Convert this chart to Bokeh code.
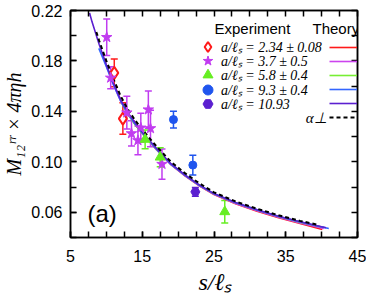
from bokeh.plotting import figure
from bokeh.layouts import column
from bokeh.models import (Range1d, FixedTicker, LinearAxis, PrintfTickFormatter, Whisker,
                          TeeHead, ColumnDataSource, Legend, LegendItem, Label, Div)
from bokeh.embed import file_html
from bokeh.resources import INLINE

# ---------------- data ----------------
x_ticks = [5, 15, 25, 35, 45]
y_ticks = [0.06, 0.10, 0.14, 0.18, 0.22]

red_s = [11.1, 12.3]
red_y = [0.1705, 0.1343]
red_err = [0.011, 0.0125]

star_s = [10.05, 10.6, 12.85, 13.5, 14.4, 14.8, 15.85, 16.15, 17.75]
star_y = [0.1988, 0.1666, 0.139, 0.1225, 0.117, 0.127, 0.1414, 0.1265, 0.0982]
star_err = [0.0145, 0.0087, 0.013, 0.010, 0.0114, 0.0115, 0.0148, 0.0145, 0.012]

tri_s = [15.4, 17.5, 26.5]
tri_y = [0.1178, 0.1037, 0.0604]
tri_err = [0.0075, 0.0075, 0.009]

circ_s = [19.35, 22.05]
circ_y = [0.1335, 0.0974]
circ_err = [0.0067, 0.0079]

pent_s = [22.4]
pent_y = [0.0762]
pent_err = [0.0035]

th_red_s = [10.5, 11, 12, 13, 14, 15, 17, 19, 21, 23, 25, 28, 31, 34, 37, 40.1]
th_red_y = [0.168, 0.162, 0.149, 0.1385, 0.130, 0.1228, 0.1098, 0.0978, 0.0887, 0.0808,
            0.0740, 0.0668, 0.0609, 0.0557, 0.0512, 0.0463]
th_mag_s = [9.8, 10, 11, 12, 13, 14, 15, 17, 19, 21, 23, 25, 28, 31, 34, 37, 40, 40.3]
th_mag_y = [0.179, 0.176, 0.161, 0.148, 0.138, 0.1298, 0.1225, 0.1095, 0.0978, 0.0888,
            0.081, 0.0742, 0.067, 0.0612, 0.056, 0.0516, 0.0476, 0.0472]
th_grn_s = [12.2, 13, 14, 15, 17, 19, 21, 23, 25, 28, 31, 34, 37, 40.3]
th_grn_y = [0.146, 0.1375, 0.1295, 0.1225, 0.1098, 0.0982, 0.0892, 0.0813, 0.0746, 0.0675,
            0.0618, 0.0566, 0.0522, 0.0480]
th_blu_s = [8.95, 10, 11, 12, 13, 14, 15, 17, 19, 21, 23, 25, 28, 31, 34, 37, 40, 41]
th_blu_y = [0.190, 0.1755, 0.161, 0.148, 0.138, 0.130, 0.123, 0.110, 0.098, 0.089, 0.0812,
            0.0746, 0.0676, 0.0619, 0.0567, 0.0524, 0.0484, 0.0472]
th_ind_s = [7.66, 8, 9, 10, 11, 12, 13, 14, 15, 17, 19, 21, 23, 25, 28, 31, 34, 37, 40, 40.6]
th_ind_y = [0.218, 0.211, 0.193, 0.177, 0.162, 0.149, 0.139, 0.131, 0.1235, 0.1105, 0.0985,
            0.0895, 0.0815, 0.0748, 0.0677, 0.0620, 0.0568, 0.0525, 0.0485, 0.0478]
th_perp_s = [8.6, 9, 10, 11, 12, 13, 14, 15, 17, 19, 21, 23, 25, 28, 31, 34, 37, 39.3]
th_perp_y = [0.203, 0.196, 0.180, 0.1655, 0.152, 0.1415, 0.133, 0.1255, 0.1122, 0.100,
             0.0908, 0.0828, 0.0758, 0.0686, 0.0628, 0.0576, 0.0532, 0.0503]

labels = ["a/ℓₛ = 2.34 ± 0.08", "a/ℓₛ = 3.7 ± 0.5", "a/ℓₛ = 5.8 ± 0.4",
          "a/ℓₛ = 9.3 ± 0.4", "a/ℓₛ = 10.93"]

C_RED = "#ff1a1a"
C_MAG = "#c13cf0"
C_GRN = "#66ee22"
C_BLU = "#1f55ee"
C_IND = "#5b1fd0"

# ---------------- figure ----------------
FL, FB = 71, 239  # frame left / bottom on the page (px)
p = figure(width=366, height=275, output_backend="svg", toolbar_location=None,
           x_range=Range1d(5, 45), y_range=Range1d(0.04, 0.22),
           min_border_left=63, min_border_right=9, min_border_top=10, min_border_bottom=38)
p.grid.visible = False
p.outline_line_color = "black"
p.outline_line_width = 1.5
p.background_fill_color = "white"
p.border_fill_color = "white"

x_minor = [5 + 2.5 * i for i in range(17)]
y_minor = [0.04 + 0.02 * i for i in range(10)]


def style_axis(ax, ticks, minor, labels_on):
    ax.ticker = FixedTicker(ticks=ticks if labels_on else [], minor_ticks=minor)
    ax.major_tick_in = 6
    ax.major_tick_out = 0
    ax.minor_tick_in = 6
    ax.minor_tick_out = 0
    ax.axis_line_color = "black"
    ax.axis_line_width = 1.5
    ax.major_tick_line_width = 1.5
    ax.minor_tick_line_width = 1.5
    ax.major_tick_line_color = "black"
    ax.minor_tick_line_color = "black"
    ax.major_label_text_font = "Liberation Sans"
    ax.major_label_text_font_size = "16px"
    ax.major_label_text_color = "black"
    ax.major_label_standoff = 8


xb = p.below[0]
yl = p.left[0]
style_axis(xb, x_ticks, x_minor, True)
style_axis(yl, y_ticks, y_minor, True)
xb.major_label_standoff = 12
yl.formatter = PrintfTickFormatter(format="%.2f")

yl.axis_label = "M₁₂ʳʳ × 4πηh"
yl.axis_label_text_font = "Liberation Serif"
yl.axis_label_text_font_style = "italic"
yl.axis_label_text_color = "black"
yl.axis_label_text_font_size = "20px"
yl.axis_label_standoff = 3

xt = LinearAxis()
style_axis(xt, x_ticks, x_minor, False)
p.add_layout(xt, "above")
yr = LinearAxis()
style_axis(yr, y_ticks, y_minor, False)
p.add_layout(yr, "right")

# ---------------- theory curves ----------------
lw = 1.6
l_red = p.line(th_red_s, th_red_y, line_color=C_RED, line_width=lw)
l_mag = p.line(th_mag_s, th_mag_y, line_color="#cc44ee", line_width=lw)
l_grn = p.line(th_grn_s, th_grn_y, line_color="#77ee33", line_width=lw)
l_blu = p.line(th_blu_s, th_blu_y, line_color="#3366ff", line_width=lw)
l_ind = p.line(th_ind_s, th_ind_y, line_color=C_IND, line_width=lw)
l_perp = p.line(th_perp_s, th_perp_y, line_color="black", line_width=2, line_dash="4 3")

# ---------------- error bars + markers ----------------


def errbars(s, y, e, color):
    src = ColumnDataSource(dict(x=s, lo=[a - b for a, b in zip(y, e)],
                                hi=[a + b for a, b in zip(y, e)]))
    w = Whisker(source=src, base="x", lower="lo", upper="hi", dimension="height",
                line_color=color, line_width=1.5,
                upper_head=TeeHead(size=7, line_color=color, line_width=1.5),
                lower_head=TeeHead(size=7, line_color=color, line_width=1.5))
    p.add_layout(w)


errbars(red_s, red_y, red_err, C_RED)
errbars(star_s, star_y, star_err, C_MAG)
errbars(tri_s, tri_y, tri_err, C_GRN)
errbars(circ_s, circ_y, circ_err, C_BLU)
errbars(pent_s, pent_y, pent_err, C_IND)

r_red = p.scatter(red_s, red_y, marker="diamond", size=12, fill_color="white",
                  line_color=C_RED, line_width=2)
r_star = p.scatter(star_s, star_y, marker="star", size=11, fill_color=C_MAG, line_color=C_MAG)
r_tri = p.scatter(tri_s, tri_y, marker="triangle", size=10, fill_color=C_GRN, line_color=C_GRN)
r_circ = p.scatter(circ_s, circ_y, marker="circle", size=8, fill_color=C_BLU, line_color=C_BLU)
r_pent = p.scatter(pent_s, pent_y, marker="hex", size=9, fill_color=C_IND, line_color=C_IND)

# ---------------- legends ----------------
row_y = [48, 62.3, 76.6, 91, 105.3]  # page y of legend rows
for t, r, yc in zip(labels, [r_red, r_star, r_tri, r_circ, r_pent], row_y):
    lg = Legend(items=[LegendItem(label=t, renderers=[r])],
                location=(125, FB - (yc + 12.5)), orientation="vertical",
                glyph_width=25, glyph_height=25, label_height=0, label_width=0,
                label_standoff=1, spacing=0, padding=0, margin=0,
                border_line_color=None, background_fill_alpha=0,
                label_text_font="Liberation Serif", label_text_font_style="italic",
                label_text_font_size="14px", label_text_color="black",
                label_text_baseline="middle")
    p.add_layout(lg)

leg2 = Legend(items=[LegendItem(label=" ", renderers=[r]) for r in
                     [l_red, l_mag, l_grn, l_blu, l_ind, l_perp]],
              location=(330 - FL, FB - 126), orientation="vertical",
              glyph_width=29, glyph_height=14, label_height=0, label_width=0,
              label_standoff=0, spacing=0, padding=0, margin=0,
              border_line_color=None, background_fill_alpha=0,
              label_text_font_size="1px")
p.add_layout(leg2)


def text_label(x, y, text, font, size, italic=False, align="left"):
    p.add_layout(Label(x=x - FL, y=FB - y, x_units="screen", y_units="screen",
                       text=text, text_font=font, text_font_size=size,
                       text_font_style="italic" if italic else "normal",
                       text_align=align, text_baseline="middle", text_color="black"))


text_label(215, 30, "Experiment", "Liberation Sans", "15px")
text_label(313, 30, "Theory", "Liberation Sans", "15px")
text_label(327, 119, "α⊥", "Liberation Serif", "15px", italic=True, align="right")
text_label(88, 215, "(a)", "Liberation Sans", "24px")

# x-axis title under the plot
xtitle = Div(text=('<div style="font-family:\'Liberation Serif\',serif; font-style:italic; '
                   'font-size:24px; line-height:10px; width:366px; text-align:center; '
                   'position:relative; left:32px; top:2px; white-space:nowrap; '
                   'color:black;">s/ℓₛ</div>'),
             width=366, height=10, margin=0)

layout = column(p, xtitle, spacing=0)
open("out.html", "w").write(file_html(layout, INLINE))
